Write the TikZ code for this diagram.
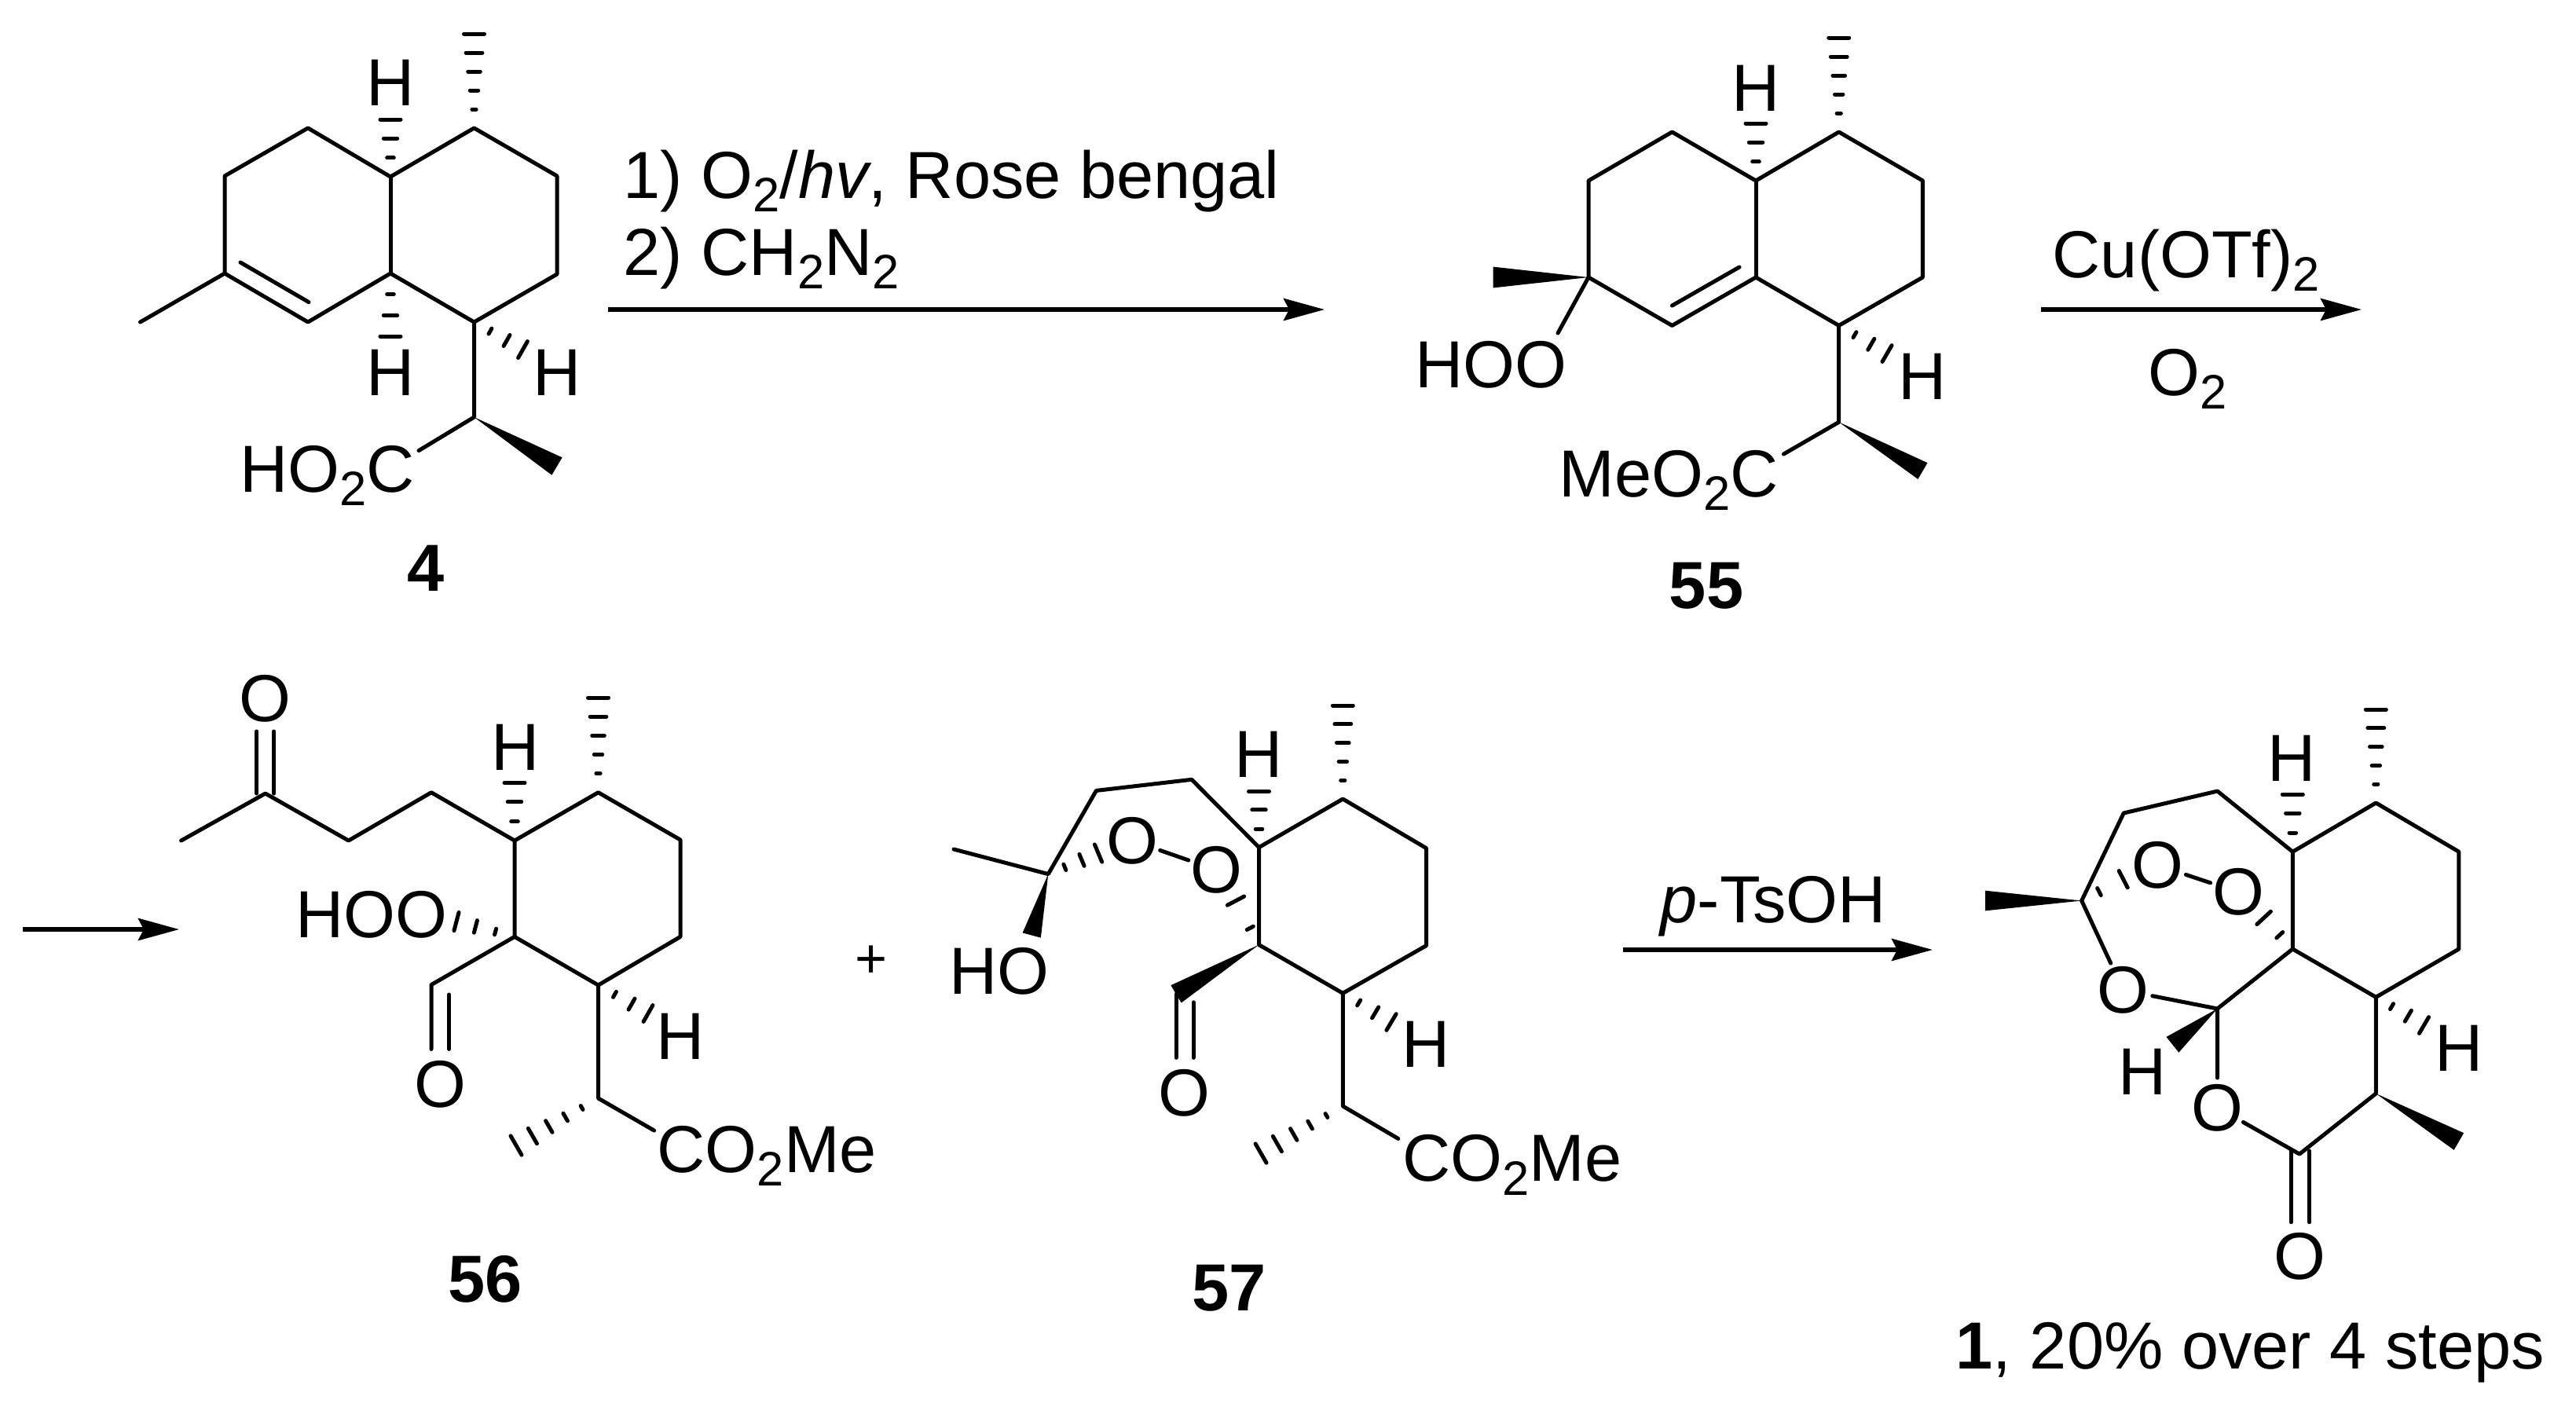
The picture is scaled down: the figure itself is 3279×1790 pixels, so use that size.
\documentclass[tikz,border=0pt]{standalone}
\usepackage{fontspec}
\setmainfont{Liberation Sans}
\usetikzlibrary{calc,arrows.meta}
\newcommand{\subn}[1]{\raisebox{-5.1pt}{\fontsize{17.5}{17.5}\selectfont #1}}
\newcommand{\hashbond}[4]{%
  \foreach \pos in {#4} {
    \pgfmathsetmacro{\hw}{\pos*#3*0.2845}
    \path[draw,bond] ($(#1)!\pos!(#2)!\hw pt!90:(#1)$) -- ($(#1)!\pos!(#2)!\hw pt!-90:(#1)$);
  }}
\newcommand{\wedgebond}[3]{%
  \fill (#1) -- ($(#2)!#3!90:(#1)$) -- ($(#2)!#3!-90:(#1)$) -- cycle;}
\tikzset{
  bond/.style={line width=0.05cm,line cap=round,line join=round},
  rxn/.style={line width=0.055cm,-{Stealth[length=0.52cm,width=0.28cm,inset=0.07cm]}},
  lab/.style={inner sep=0pt,font=\fontsize{24.1}{28}\selectfont},
  atom/.style={lab,circle,inner sep=-1.5pt},
  txt/.style={lab,anchor=base west},
  num/.style={lab,anchor=base,font=\fontsize{24.1}{28}\selectfont\bfseries}
}
\begin{document}
\begin{tikzpicture}[x=0.01cm,y=-0.01cm]
  \useasboundingbox (0,0) rectangle (3279,1790);
  % compound 4
  \foreach \n/\x/\y in {Aa/392/163, Ab/286/224, Ac/286/348, Ame/178.5/410, Ad/392/410, Ae/497/348,
      Af/497/225, Ag/603.5/163, Ah/709/224, Ai/709/349, Aj/603.5/410, Ak/603.5/531,
      Awe/709/593.5, Aco/533/573.6, Adb/306/334, Adc/393/384.6, Ahm/603.5/43,
      Ahu/497/152, Ahd/497/428, Ahr/665.5/445} {
    \coordinate (\n) at (\x,\y);
  }
  \path[draw,bond] (Ame) -- (Ac) -- (Ab) -- (Aa) -- (Af) -- (Ag) -- (Ah) -- (Ai) -- (Aj) -- (Ae) -- (Ad) -- (Ac);
  \path[draw,bond] (Af) -- (Ae);
  \path[draw,bond] (Aj) -- (Ak) -- (Aco);
  \path[draw,bond] (Adb) -- (Adc);
  \wedgebond{Ak}{Awe}{0.13cm}
  \hashbond{Ag}{Ahm}{13}{0.2,0.4,0.6,0.8,1}
  \hashbond{Af}{Ahu}{13}{0.33,0.67,1}
  \hashbond{Ae}{Ahd}{13}{0.33,0.67,1}
  \hashbond{Aj}{Ahr}{12}{0.33,0.67,1}
  \node[lab] (AHu) at (497,105.5) {H};
  \node[lab] (AHd) at (497,474) {H};
  \node[lab] (AHr) at (709,474) {H};
  \node[txt] (Aacid) at (304.5,626) {HO\subn{2}C};
  \node[num] (Alabel) at (542,752) {4};
  % first arrow
  \coordinate (ra) at (774,394);
  \coordinate (rb) at (1686,394);
  \path[draw,rxn] (ra) -- (rb);
  \node[txt] (ralabel) at (793,252) {1) O\subn{2}/\textit{hv}, Rose bengal};
  \node[txt] (rblabel) at (793,350) {2) CH\subn{2}N\subn{2}};
  % compound 55
  \foreach \n/\x/\y in {Ba/2128.4/168, Bb/2022/230, Bc/2022/353, Bd/2128.4/414.4, Be/2235/353,
      Bf/2235/230, Bg/2340.7/168, Bh/2447.4/230, Bi/2447.4/353, Bj/2340.7/414.4, Bk/2340.7/537.3,
      Bwc/1900.6/353, Boo/1983/424, Bdb/2128.4/389, Bdc/2214/340, Bwe/2447.4/599.5,
      Bco/2270.4/578, Bhm/2340.7/48, Bhu/2235/157, Bhr/2402/450} {
    \coordinate (\n) at (\x,\y);
  }
  \path[draw,bond] (Bc) -- (Bb) -- (Ba) -- (Bf) -- (Bg) -- (Bh) -- (Bi) -- (Bj) -- (Be) -- (Bd) -- (Bc);
  \path[draw,bond] (Bf) -- (Be);
  \path[draw,bond] (Bc) -- (Boo);
  \path[draw,bond] (Bj) -- (Bk) -- (Bco);
  \path[draw,bond] (Bdb) -- (Bdc);
  \wedgebond{Bc}{Bwc}{0.134cm}
  \wedgebond{Bk}{Bwe}{0.12cm}
  \hashbond{Bg}{Bhm}{13}{0.2,0.4,0.6,0.8,1}
  \hashbond{Bf}{Bhu}{13}{0.33,0.67,1}
  \hashbond{Bj}{Bhr}{12}{0.33,0.67,1}
  \node[lab] (BHu) at (2235,112) {H};
  \node[lab] (BHr) at (2447,479) {H};
  \node[txt] (Bhoo) at (1801,493.5) {HOO};
  \node[txt] (Bester) at (1984,632) {MeO\subn{2}C};
  \node[num] (Blabel) at (2172,774) {55};
  % second arrow
  \coordinate (sa) at (2598,394);
  \coordinate (sb) at (3006,394);
  \path[draw,rxn] (sa) -- (sb);
  \node[txt] (salabel) at (2612,353) {Cu(OTf)\subn{2}};
  \node[txt] (sblabel) at (2734,503) {O\subn{2}};
  % continuation arrow
  \coordinate (ta) at (29,1183);
  \coordinate (tb) at (228,1183);
  \path[draw,rxn] (ta) -- (tb);
  % compound 56
  \foreach \n/\x/\y in {Cme/230.6/1070, Cke/337.8/1010, Cdl/326.8/1010, Cdr/348.8/1010, Cul/326.8/931,
      Cur/348.8/931, Cm/443.7/1070, Cn/549/1008.7, Cf/655/1070, Cg/761.5/1008.7, Ch/866/1069,
      Ci/866/1192.4, Cj/761.5/1254, Ce/655/1192.4, Cal/549/1253.5, Cax/549/1335.4,
      Cay/571.7/1266, Caz/571.7/1335.4, Ck/761.5/1398, Cco/832.6/1439, Chk/657/1458,
      Chp/581/1173, Chu/655/996.4, Chm/761.5/888, Chr/825/1290} {
    \coordinate (\n) at (\x,\y);
  }
  \path[draw,bond] (Cme) -- (Cke) -- (Cm) -- (Cn) -- (Cf) -- (Cg) -- (Ch) -- (Ci) -- (Cj) -- (Ce) -- (Cf);
  \path[draw,bond] (Cdl) -- (Cul);
  \path[draw,bond] (Cdr) -- (Cur);
  \path[draw,bond] (Ce) -- (Cal) -- (Cax);
  \path[draw,bond] (Cay) -- (Caz);
  \path[draw,bond] (Cj) -- (Ck) -- (Cco);
  \hashbond{Ck}{Chk}{14}{0.2,0.4,0.6,0.8,1}
  \hashbond{Ce}{Chp}{12}{0.33,0.67,1}
  \hashbond{Cf}{Chu}{13}{0.33,0.67,1}
  \hashbond{Cg}{Chm}{13}{0.2,0.4,0.6,0.8,1}
  \hashbond{Cj}{Chr}{12}{0.33,0.67,1}
  \node[lab] (COk) at (337.8,889) {O};
  \node[lab] (COa) at (560,1380) {O};
  \node[lab] (CHu) at (656,951) {H};
  \node[lab] (CHr) at (866,1319.4) {H};
  \node[txt] (Choo) at (376,1193.5) {HOO};
  \node[txt] (Cester) at (836,1492) {CO\subn{2}Me};
  \node[num] (Clabel) at (617.6,1657) {56};
  \node[lab,font=\fontsize{20}{24}\selectfont] (plus) at (1108.8,1224) {+};
  % compound 57
  \foreach \n/\x/\y in {Dme/1214/1081, Dc/1334.3/1112.6, Dm/1395.4/1006.4, Dn/1516.9/992.3,
      Df/1602.5/1078.6, Dg/1709.3/1017, Dh/1815.6/1079.7, Di/1815.6/1203.6, Dj/1709.3/1264.3,
      De/1602.5/1202.6, Dal/1497/1265.3, Dax/1497/1346.4, Day/1519/1275.8, Daz/1519/1346.4,
      Dk/1709.3/1408, Dco/1779.8/1449.4, Dhk/1605/1468, Dwo/1313.2/1190.5, Dhc/1398/1086,
      Dhe/1573/1146.6, Dhu/1602.5/1007.5, Dhm/1709.3/898, Dhr/1771/1301} {
    \coordinate (\n) at (\x,\y);
  }
  \node[atom] (DOa) at (1441,1070) {O};
  \node[atom] (DOb) at (1548.5,1107.4) {O};
  \path[draw,bond] (Dme) -- (Dc) -- (Dm) -- (Dn) -- (Df) -- (Dg) -- (Dh) -- (Di) -- (Dj) -- (De) -- (Df);
  \path[draw,bond] (DOa) -- (DOb);
  \path[draw,bond] (Dal) -- (Dax);
  \path[draw,bond] (Day) -- (Daz);
  \path[draw,bond] (Dj) -- (Dk) -- (Dco);
  \wedgebond{De}{Dal}{0.13cm}
  \wedgebond{Dc}{Dwo}{0.12cm}
  \hashbond{Dk}{Dhk}{14}{0.2,0.4,0.6,0.8,1}
  \hashbond{Dc}{Dhc}{12}{0.33,0.67,1}
  \hashbond{De}{Dhe}{12}{0.38,1}
  \hashbond{Df}{Dhu}{13}{0.33,0.67,1}
  \hashbond{Dg}{Dhm}{13}{0.2,0.4,0.6,0.8,1}
  \hashbond{Dj}{Dhr}{12}{0.33,0.67,1}
  \node[lab] (DOc) at (1507.5,1391) {O};
  \node[lab] (DHu) at (1602.5,960.4) {H};
  \node[lab] (DHr) at (1815,1329) {H};
  \node[txt] (Dho) at (1207.5,1265.3) {HO};
  \node[txt] (Dester) at (1784.6,1503.3) {CO\subn{2}Me};
  \node[num] (Dlabel) at (1564.4,1668) {57};
  % third arrow
  \coordinate (ua) at (2066,1209);
  \coordinate (ub) at (2460,1209);
  \path[draw,rxn] (ua) -- (ub);
  \node[txt] (ualabel) at (2113,1174) {\textit{p}-TsOH};
  % compound 1
  \foreach \n/\x/\y in {Ewe/2527/1146.5, Ec/2649.7/1146.5, Em/2703.2/1035, En/2822.5/1007, Ef/2918.3/1084.2,
      Eg/3024.3/1022, Eh/3129.9/1084.2, Ei/3129.9/1208, Ej/3024.3/1269.3, Ee/2918.3/1208,
      Ep/2822.5/1284, Eq/3024.3/1392, Ewq/3129.9/1453, Er/2927/1469, Exl/2916.3/1465, Exr/2939.7/1465,
      Eyl/2916.3/1555.7, Eyr/2939.7/1555.7, Ewp/2765.4/1329.8, Ehc/2702.7/1119.2, Ehe/2881.6/1168.4,
      Ehu/2918.3/1011, Ehm/3024.3/903, Ehr/3085.5/1305} {
    \coordinate (\n) at (\x,\y);
  }
  \node[atom] (EOa) at (2746.6,1101.4) {O};
  \node[atom] (EOb) at (2849.5,1135.8) {O};
  \node[atom] (EOc) at (2702.7,1260.4) {O};
  \node[atom] (EOd) at (2822.5,1409.8) {O};
  \path[draw,bond] (EOc) -- (Ec) -- (Em) -- (En) -- (Ef) -- (Eg) -- (Eh) -- (Ei) -- (Ej) -- (Ee) -- (Ef);
  \path[draw,bond] (EOa) -- (EOb);
  \path[draw,bond] (EOc) -- (Ep) -- (Ee);
  \path[draw,bond] (Ep) -- (EOd) -- (Er) -- (Eq) -- (Ej);
  \path[draw,bond] (Exl) -- (Eyl);
  \path[draw,bond] (Exr) -- (Eyr);
  \wedgebond{Ec}{Ewe}{0.128cm}
  \wedgebond{Eq}{Ewq}{0.125cm}
  \wedgebond{Ep}{Ewp}{0.127cm}
  \hashbond{Ec}{Ehc}{12}{0.42,1}
  \hashbond{Ee}{Ehe}{12}{0.45,1}
  \hashbond{Ef}{Ehu}{13}{0.33,0.67,1}
  \hashbond{Eg}{Ehm}{13}{0.2,0.4,0.6,0.8,1}
  \hashbond{Ej}{Ehr}{12}{0.33,0.67,1}
  \node[lab] (EOe) at (2927,1599.6) {O};
  \node[lab] (EHu) at (2917.3,965) {H};
  \node[lab] (EHr) at (3129.9,1334.5) {H};
  \node[lab] (EHp) at (2727.2,1364) {H};
  \node[txt] (Elabel) at (2489,1742) {\textbf{1}, 20\% over 4 steps};
\end{tikzpicture}
\end{document}
